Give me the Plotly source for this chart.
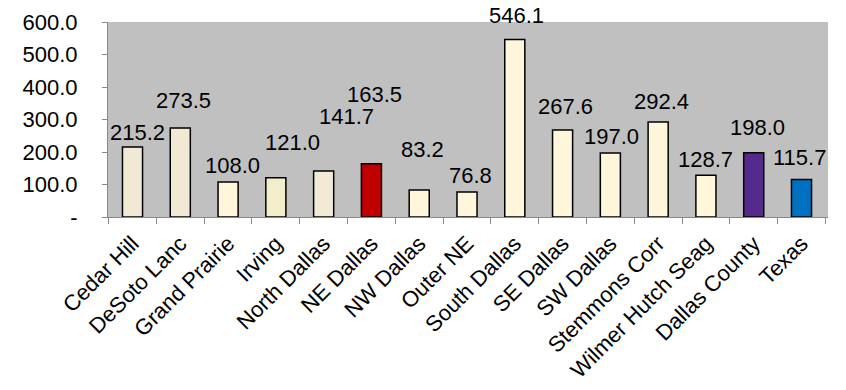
import plotly.graph_objects as go

categories = ["Cedar Hill", "DeSoto Lanc", "Grand Prairie", "Irving", "North Dallas",
              "NE Dallas", "NW Dallas", "Outer NE", "South Dallas", "SE Dallas",
              "SW Dallas", "Stemmons Corr", "Wilmer Hutch Seag", "Dallas County", "Texas"]
values = [215.2, 273.5, 108.0, 121.0, 141.7, 163.5, 83.2, 76.8, 546.1, 267.6,
          197.0, 292.4, 128.7, 198.0, 115.7]
tick_vals = [0, 100, 200, 300, 400, 500, 600]
tick_text = ["-", "100.0", "200.0", "300.0", "400.0", "500.0", "600.0"]

colors = ["#F1E9D3", "#F1E9D3", "#FFF6DC", "#F2EDCB", "#F1EBD6", "#C00000",
          "#FFF6DC", "#FFF6DC", "#FFF6DC", "#FFF6DC", "#FFF6DC", "#FFF6DC",
          "#FFF6DC", "#562A8A", "#0070C0"]
# label offsets (px) mimicking the manually placed labels
label_dy = [15, 28, 16, 35, 54, 69, 40, 17, 24, 24, 16, 20, 16, 25, 22]
label_dx = [5, 3, 4, 17, 23, 3, 3, 3, 2, 3, 1, 3, 0, 4, -2]

FONT = "Liberation Sans, Arial"

fig = go.Figure(go.Bar(
    x=categories, y=values, width=0.42,
    marker=dict(color=colors, line=dict(color="black", width=1.5)),
    hoverinfo="skip",
))

for c, v, dy, dx in zip(categories, values, label_dy, label_dx):
    fig.add_annotation(x=c, y=v, text=f"{v:.1f}", showarrow=False,
                       yanchor="middle", xanchor="center", yshift=dy, xshift=dx,
                       font=dict(family=FONT, size=22, color="black"))

fig.update_layout(
    width=846, height=390,
    margin=dict(l=108, r=18, t=22, b=173),
    paper_bgcolor="white", plot_bgcolor="#C0C0C0",
    showlegend=False,
    font=dict(family=FONT, size=22, color="black"),
)
fig.update_xaxes(tickangle=-45, tickson="boundaries", ticks="outside", ticklen=6,
                 tickcolor="#888888", showline=True, linecolor="#888888", linewidth=1,
                 showgrid=False, tickfont=dict(size=22), automargin=False,
                 ticklabelstandoff=4)
fig.update_yaxes(range=[0, 600], tickvals=tick_vals, ticktext=tick_text,
                 ticks="outside", ticklen=5, tickcolor="#888888", showline=True,
                 linecolor="#888888", linewidth=1, showgrid=False, zeroline=False,
                 tickfont=dict(size=22), ticklabelstandoff=20, automargin=False)

# remove the browser's default 8px body margin so the figure fills the window
fig.write_html("out.html", config={"displayModeBar": False},
               post_script="document.body.style.margin='0';")
